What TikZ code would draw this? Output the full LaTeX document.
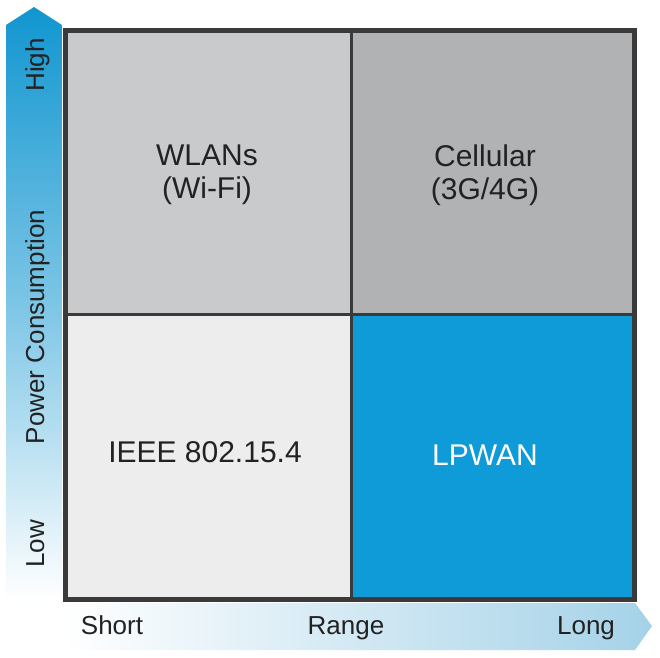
\documentclass[tikz,border=0pt]{standalone}
\usepackage{fontspec}
\setmainfont{Liberation Sans}
\usetikzlibrary{shadings}
\definecolor{cellA}{HTML}{C9CACB}
\definecolor{cellB}{HTML}{B1B2B3}
\definecolor{cellC}{HTML}{EDEDEE}
\definecolor{cellD}{HTML}{0F9BD7}
\definecolor{frame}{HTML}{3A3A3A}
\definecolor{ink}{HTML}{222222}
\definecolor{arrowblue}{HTML}{1196D0}
\definecolor{arrowlight}{HTML}{A5D2E8}
\begin{document}
\begin{tikzpicture}[x=1pt,y=-1pt,
  cell/.style={draw=frame,line width=3pt,minimum width=285pt,minimum height=283pt,inner sep=0pt,anchor=north west},
  celltext/.style={font=\fontsize{30}{33}\selectfont,text=ink,align=center},
  axistext/.style={font=\fontsize{26}{30}\selectfont,text=ink,anchor=base,inner sep=0pt}]
\useasboundingbox (0,0) rectangle (660,657);
% axis arrows
\shade[top color=arrowblue,bottom color=white,middle color=arrowblue!55!white]
  (6,25) -- (34,7) -- (62,25) -- (62,600) -- (6,600) -- cycle;
\shade[left color=white,right color=arrowlight]
  (62,603) -- (635,603) -- (652,626) -- (635,650) -- (62,650) -- cycle;
% cells
\node[cell,fill=cellA,minimum width=285pt] (wlan) at (65,30) {};
\node[cell,fill=cellB,minimum width=282pt] (cell) at (350,30) {};
\node[cell,fill=cellC,minimum width=285pt,minimum height=284pt] (ieee) at (65,313) {};
\node[cell,fill=cellD,minimum width=282pt,minimum height=284pt] (lpwan) at (350,313) {};
\draw[frame,line width=3.5pt] (wlan.north west) rectangle (lpwan.south east);
% cell texts
\node[celltext] (twlan) at (207,175) {WLANs\\ (Wi-Fi)};
\node[celltext] (tcell) at (485,175) {Cellular\\(3G/4G)};
\node[celltext] (tieee) at (205,452) {IEEE 802.15.4};
\node[celltext,text=white] (tlpwan) at (485,455) {LPWAN};
% axis labels
\node[axistext,rotate=90] (high) at (44,65) {High};
\node[axistext,rotate=90] (power) at (44,327) {Power Consumption};
\node[axistext,rotate=90] (low) at (44,544) {Low};
\node[axistext] (short) at (112,634) {Short};
\node[axistext] (range) at (346,634) {Range};
\node[axistext] (long) at (586,634) {Long};
\end{tikzpicture}
\end{document}
